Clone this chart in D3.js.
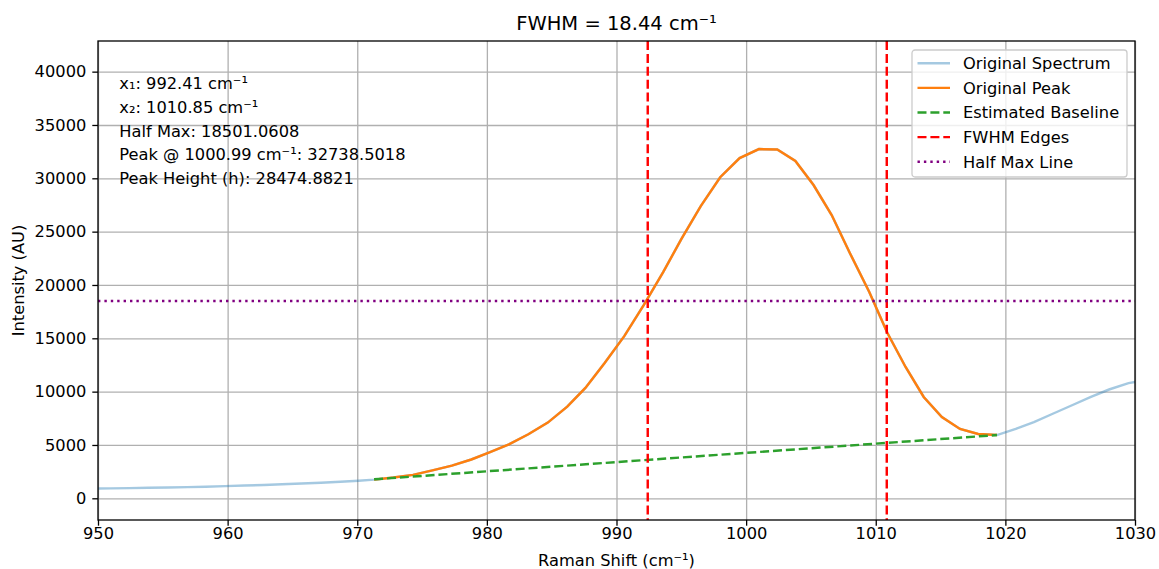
<!DOCTYPE html>
<html>
<head>
<meta charset="utf-8">
<script src="https://cdn.jsdelivr.net/npm/d3@7"></script>
<style>
  body { margin: 0; background: #fff; }
  text { font-family: "DejaVu Sans", sans-serif; fill: #000; }
  .grid line { stroke: #b0b0b0; stroke-width: 1.3px; }
  .grid path { stroke: none; }
</style>
</head>
<body>
<svg width="1159" height="569"></svg>
<script>
// spectrum left of the peak window
var leftShift = [946.5, 948.0, 949.5, 951.0, 952.4, 953.9, 955.4, 956.9, 958.3, 959.8, 961.3, 962.8, 964.2, 965.7, 967.2, 968.7, 970.1];
var leftIntensity = [870, 890, 910, 930, 955, 985, 1015, 1050, 1090, 1140, 1195, 1250, 1310, 1380, 1460, 1550, 1650];

// the peak window (drawn orange, also part of the spectrum)
var peakShift = [971.3, 972.8, 974.3, 975.8, 977.3, 978.8, 980.2, 981.7, 983.2, 984.7, 986.2, 987.6, 989.1, 990.6, 992.1, 993.6, 995.0, 996.5, 998.0, 999.5,
                 1000.99, 1002.4, 1003.8, 1005.2, 1006.6, 1008.0, 1009.5, 1010.9, 1012.3, 1013.7, 1015.1, 1016.5, 1017.9, 1019.35];
var peakIntensity = [1750, 1950, 2200, 2620, 3060, 3640, 4300, 5050, 6000, 7100, 8600, 10350, 12700, 15200, 18100, 21200, 24300, 27400, 30100, 31900,
                     32738.5, 32700, 31620, 29370, 26560, 23000, 19350, 15500, 12310, 9500, 7620, 6500, 6030, 5930];

// spectrum right of the peak window
var rightShift = [1020.8, 1022.2, 1023.7, 1025.1, 1026.6, 1028.0, 1029.5, 1030.9, 1032.4];
var rightIntensity = [6500, 7150, 7950, 8700, 9500, 10200, 10800, 11100, 11300];

// linear baseline between the window edges
var baselineShift = [971.3, 1019.35];
var baselineIntensity = [1780, 5930];

var halfMax = 18501.0608;
var fwhmEdges = [992.41, 1010.85];

var xTicks = [950, 960, 970, 980, 990, 1000, 1010, 1020, 1030];
var yTicks = [0, 5000, 10000, 15000, 20000, 25000, 30000, 35000, 40000];

var infoLines = [
  "x\u2081: 992.41 cm\u207B\u00B9",
  "x\u2082: 1010.85 cm\u207B\u00B9",
  "Half Max: 18501.0608",
  "Peak @ 1000.99 cm\u207B\u00B9: 32738.5018",
  "Peak Height (h): 28474.8821"
];

var legendItems = [
  {label: "Original Spectrum", color: "#1f77b4", opacity: 0.4, dash: null},
  {label: "Original Peak", color: "#ff7f0e", opacity: 1, dash: null},
  {label: "Estimated Baseline", color: "#2ca02c", opacity: 1, dash: "9,3.9"},
  {label: "FWHM Edges", color: "#ff0000", opacity: 1, dash: "9,3.9"},
  {label: "Half Max Line", color: "#800080", opacity: 1, dash: "2.4,4"}
];

var fontSize = "16.25px",
    lw = 2.44;

var svg = d3.select("svg"),
    margin = {top: 41, right: 24, bottom: 49, left: 98},
    width = 1159 - margin.left - margin.right,
    height = 569 - margin.top - margin.bottom,
    g = svg.append("g").attr("transform", "translate(" + margin.left + "," + margin.top + ")");

var x = d3.scaleLinear().domain([950, 1030]).range([0, width]),
    y = d3.scaleLinear().domain([-2034, 42873]).range([height, 0]);

function zip(xs, ys) {
  return xs.map(function(v, i) { return {x: v, y: ys[i]}; });
}

var spectrum = zip(leftShift.concat(peakShift, rightShift), leftIntensity.concat(peakIntensity, rightIntensity));
var peak = zip(peakShift, peakIntensity);
var baseline = zip(baselineShift, baselineIntensity);

var line = d3.line()
    .x(function(d) { return x(d.x); })
    .y(function(d) { return y(d.y); });

svg.append("defs").append("clipPath").attr("id", "clip")
  .append("rect").attr("width", width).attr("height", height);

// gridlines
g.append("g")
    .attr("class", "grid")
    .attr("transform", "translate(0," + height + ")")
    .call(d3.axisBottom(x).tickValues(xTicks).tickSize(-height).tickFormat(""));

g.append("g")
    .attr("class", "grid")
    .call(d3.axisLeft(y).tickValues(yTicks).tickSize(-width).tickFormat(""));

var plot = g.append("g").attr("clip-path", "url(#clip)");

plot.append("path")
    .datum(spectrum)
    .attr("d", line)
    .attr("fill", "none")
    .attr("stroke", "#1f77b4")
    .attr("stroke-opacity", 0.4)
    .attr("stroke-width", lw);

plot.append("path")
    .datum(peak)
    .attr("d", line)
    .attr("fill", "none")
    .attr("stroke", "#ff7f0e")
    .attr("stroke-width", lw);

plot.append("path")
    .datum(baseline)
    .attr("d", line)
    .attr("fill", "none")
    .attr("stroke", "#2ca02c")
    .attr("stroke-width", lw)
    .attr("stroke-dasharray", "9,3.9");

plot.selectAll(".edge")
    .data(fwhmEdges)
  .enter().append("line")
    .attr("class", "edge")
    .attr("x1", function(d) { return x(d); })
    .attr("x2", function(d) { return x(d); })
    .attr("y1", 0)
    .attr("y2", height)
    .attr("stroke", "#ff0000")
    .attr("stroke-width", lw)
    .attr("stroke-dasharray", "9,3.9");

plot.append("line")
    .attr("x1", 0)
    .attr("x2", width)
    .attr("y1", y(halfMax))
    .attr("y2", y(halfMax))
    .attr("stroke", "#800080")
    .attr("stroke-width", lw)
    .attr("stroke-dasharray", "2.4,4");

// axes
var xAxis = g.append("g")
    .attr("transform", "translate(0," + height + ")")
    .call(d3.axisBottom(x).tickValues(xTicks).tickSize(5.7).tickPadding(2).tickFormat(d3.format("d")));

var yAxis = g.append("g")
    .call(d3.axisLeft(y).tickValues(yTicks).tickSize(5.7).tickPadding(6).tickFormat(d3.format("d")));

[xAxis, yAxis].forEach(function(a) {
  a.select(".domain").remove();
  a.selectAll(".tick line").attr("stroke", "#000").attr("stroke-width", 1.3);
  a.selectAll(".tick text").attr("font-size", fontSize).attr("font-family", "DejaVu Sans, sans-serif").attr("fill", "#000");
});

// frame
g.append("rect")
    .attr("width", width)
    .attr("height", height)
    .attr("fill", "none")
    .attr("stroke", "#000")
    .attr("stroke-width", 1.3);

// title and axis labels
svg.append("text")
    .attr("x", margin.left + width / 2)
    .attr("y", 29.5)
    .attr("text-anchor", "middle")
    .attr("font-size", "19.5px")
    .text("FWHM = 18.44 cm\u207B\u00B9");

svg.append("text")
    .attr("x", margin.left + width / 2)
    .attr("y", 565.5)
    .attr("text-anchor", "middle")
    .attr("font-size", fontSize)
    .text("Raman Shift (cm\u207B\u00B9)");

svg.append("text")
    .attr("transform", "translate(24," + (margin.top + height / 2) + ") rotate(-90)")
    .attr("text-anchor", "middle")
    .attr("font-size", fontSize)
    .text("Intensity (AU)");

// info text block
g.selectAll(".info")
    .data(infoLines)
  .enter().append("text")
    .attr("class", "info")
    .attr("x", 21.3)
    .attr("y", function(d, i) { return 48.3 + i * 23.7; })
    .attr("font-size", fontSize)
    .text(function(d) { return d; });

// legend
var legend = svg.append("g").attr("transform", "translate(912,50)");

legend.append("rect")
    .attr("width", 215)
    .attr("height", 127)
    .attr("rx", 3)
    .attr("fill", "#fff")
    .attr("fill-opacity", 0.8)
    .attr("stroke", "#cccccc")
    .attr("stroke-width", 1.3);

var item = legend.selectAll(".item")
    .data(legendItems)
  .enter().append("g")
    .attr("class", "item")
    .attr("transform", function(d, i) { return "translate(0," + (13.3 + i * 24.6) + ")"; });

item.append("line")
    .attr("x1", 5.5)
    .attr("x2", 38)
    .attr("stroke", function(d) { return d.color; })
    .attr("stroke-opacity", function(d) { return d.opacity; })
    .attr("stroke-width", lw)
    .attr("stroke-dasharray", function(d) { return d.dash; });

item.append("text")
    .attr("x", 51)
    .attr("dy", "0.36em")
    .attr("font-size", fontSize)
    .text(function(d) { return d.label; });
</script>
</body>
</html>
